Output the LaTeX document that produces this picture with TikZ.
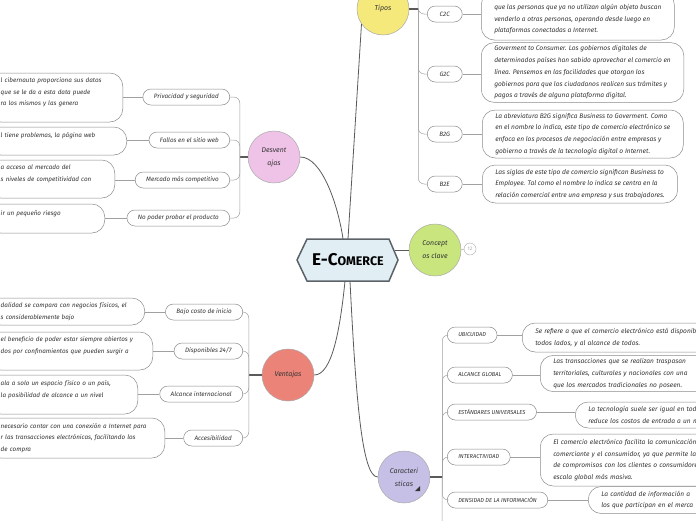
\documentclass[tikz,border=0pt]{standalone}
\usepackage{fontspec}
\setmainfont{Fira Sans}
\usetikzlibrary{calc}

\definecolor{hubfill}{HTML}{E1EEF4}
\definecolor{hubline}{HTML}{5B6369}
\definecolor{tiposfill}{HTML}{F6E97C}
\definecolor{conceptfill}{HTML}{C9E67E}
\definecolor{desvfill}{HTML}{EFC3E7}
\definecolor{ventfill}{HTML}{EC8378}
\definecolor{caracfill}{HTML}{C6C0E7}
\definecolor{ringgray}{HTML}{A8A8A8}
\definecolor{leafgray}{HTML}{8A8A8A}
\definecolor{linkgray}{HTML}{5A5A5A}
\definecolor{twiggray}{HTML}{A0A0A0}
\definecolor{txtgray}{HTML}{333333}

\begin{document}
\begin{tikzpicture}[x=1pt, y=-1pt,
    font=\fontsize{6.3}{11.8}\selectfont\itshape, text=txtgray,
    topic/.style={circle, draw=ringgray, line width=0.5pt, minimum size=52pt, inner sep=1pt,
        align=center, font=\fontsize{7}{13}\selectfont\itshape},
    leaf/.style={draw=leafgray, fill=white, rounded corners=8pt, minimum height=16pt,
        inner xsep=11pt, inner ysep=2pt, line width=0.5pt},
    capsleaf/.style={leaf, font=\fontsize{5.7}{11.8}\selectfont\itshape},
    note/.style={draw=leafgray, fill=white, rounded corners=13pt, align=left,
        inner xsep=13pt, inner ysep=3pt, line width=0.5pt, font=\fontsize{6.6}{11.8}\selectfont\itshape},
    leftnote/.style={note, anchor=east, font=\fontsize{6.3}{11.8}\selectfont\itshape},
    link/.style={draw=linkgray, line width=0.8pt},
    stem/.style={draw=linkgray, line width=1.6pt},
    twig/.style={draw=twiggray, line width=0.5pt, rounded corners=6pt}]

    \clip (0,0) rectangle (696,520);

    % central hexagon
    \filldraw[fill=hubfill, draw=hubline, line width=1.5pt]
        (297,260) -- (307,239) -- (389,239) -- (398,260) -- (389,281) -- (307,281) -- cycle;
    \node[inner sep=0, minimum width=101pt, minimum height=42pt, text=black] (hub) at (348,260)
        {\bfseries\upshape{\fontsize{17}{17}\selectfont E-C}{\fontsize{12.5}{12.5}\selectfont OMERCE}};

    % main topics
    \node[topic, fill=tiposfill] (tipos) at (383,9) {Tipos};
    \node[topic, fill=conceptfill] (concepts) at (435,250) {Concept\\os clave};
    \node[topic, fill=desvfill] (desv) at (274,157) {Desvent\\ajas};
    \node[topic, fill=ventfill] (vent) at (288,375) {Ventajas};
    \node[topic, fill=caracfill] (carac) at (404,477) {Caracteri\\sticas};
    \fill[txtgray] ($(carac)+(16,9)$) -- ($(carac)+(16,14)$) -- ($(carac)+(11,14)$) -- cycle;

    \node[circle, draw=ringgray, minimum size=12pt, inner sep=0, text=ringgray,
        font=\fontsize{5}{5}\selectfont\upshape] (count) at (470,249) {12};
    \draw[ringgray, line width=0.5pt] (concepts.east) -- (count.west);

    \draw[link] (tipos.215) -- (hub.north);
    \draw[link] (desv.east) .. controls (322,157) and (338,205) .. ($(hub.north)+(-5,0)$);
    \draw[link] ($(hub.east)+(-4,-10)$) -- (concepts.west);
    \draw[link] ($(hub.south)+(-3,0)$) .. controls (340,330) and (332,375) .. (vent.east);
    \draw[link] ($(hub.south)+(2,0)$) .. controls (356,400) and (362,477) .. (carac.west);

    \draw[stem] (tipos.east) -- ++(9,0) coordinate (tj);
    \draw[stem] (desv.west) -- ++(-8,0) coordinate (dj);
    \draw[stem] (vent.west) -- ++(-13,0) coordinate (vj);
    \draw[stem] (carac.east) -- ++(12,0) coordinate (cj);
    \coordinate (tipostop) at (418,-10);
    \coordinate (caracend) at (442,530);

    % Tipos
    \node[leaf, anchor=west, minimum width=35pt] (c2c) at (427,14) {C2C};
    \node[leaf, anchor=west, minimum width=35pt] (g2c) at (427,74) {G2C};
    \node[leaf, anchor=west, minimum width=35pt] (b2g) at (427,134) {B2G};
    \node[leaf, anchor=west, minimum width=35pt] (b2e) at (427,184) {B2E};

    \node[note, anchor=west, minimum height=48pt] (c2cnote) at (481,16)
        {\mbox{}\\que las personas que ya no utilizan algún objeto buscan\\
        venderlo a otras personas, operando desde luego en\\plataformas conectadas a Internet.};
    \node[note, anchor=west, minimum height=55pt] (g2cnote) at (481,72.5)
        {Goverment to Consumer. Los gobiernos digitales de\\
        determinados países han sabido aprovechar el comercio en\\
        línea. Pensemos en las facilidades que otorgan los\\
        gobiernos para que los ciudadanos realicen sus trámites y\\
        pagos a través de alguna plataforma digital.};
    \node[note, anchor=west, minimum height=48pt] (b2gnote) at (482,134)
        {La abreviatura B2G significa Business to Goverment. Como\\
        en el nombre lo indica, este tipo de comercio electrónico se\\
        enfoca en los procesos de negociación entre empresas y\\
        gobierno a través de la tecnología digital o Internet.};
    \node[note, anchor=west, minimum height=38pt] (b2enote) at (482,184)
        {Las siglas de este tipo de comercio significan Business to\\
        Employee. Tal como el nombre lo indica se centra en la\\
        relación comercial entre una empresa y sus trabajadores.};

    \draw[twig] (tj) -- (tipostop);
    \foreach \leaf in {c2c, g2c, b2g, b2e} {
        \draw[twig] (tj) |- (\leaf.west);
        \draw[twig] (\leaf.east) -- (\leaf.east -| \leaf note.west);
    }

    % Desventajas (notes run past the left edge)
    \node[leaf, anchor=east] (privacy) at (230,97) {Privacidad y seguridad};
    \node[leaf, anchor=east] (failures) at (230,140) {Fallos en el sitio web};
    \node[leaf, anchor=east] (market) at (230,180) {Mercado más competitivo};
    \node[leaf, anchor=east] (trial) at (230,218) {No poder probar el producto};

    \node[leftnote, text width=109pt, minimum height=49pt] (privacynote) at (123,97.5)
        {\mbox{l cibernauta proporciona sus datos}\\\mbox{que se le da a esta data puede}\\
        \mbox{ra los mismos y las genera}\\\mbox{}};
    \node[leftnote, text width=113pt, minimum height=28pt] (failuresnote) at (127,141)
        {\mbox{l tiene problemas, la página web}\\\mbox{}};
    \node[leftnote, text width=101pt, minimum height=38pt] (marketnote) at (115,179)
        {\mbox{a acceso al mercado del}\\\mbox{s niveles de competitividad con}\\\mbox{}};
    \node[leftnote, text width=91pt, minimum height=29pt] (trialnote) at (105,218.5)
        {\mbox{ir un pequeño riesgo}\\\mbox{}};

    \foreach \leaf in {privacy, failures, market, trial} {
        \draw[twig] (dj) |- (\leaf.east);
        \draw[twig] (\leaf.west) -- (\leaf.west -| \leaf note.east);
    }

    % Ventajas
    \node[leaf, anchor=east] (lowcost) at (243,312) {Bajo costo de inicio};
    \node[leaf, anchor=east] (allday) at (243,351) {Disponibles 24/7};
    \node[leaf, anchor=east] (reach) at (243,394) {Alcance internacional};
    \node[leaf, anchor=east] (access) at (243,438) {Accesibilidad};

    \node[leftnote, text width=131pt, minimum height=27pt] (lowcostnote) at (145,311.5)
        {\mbox{dalidad se compara con negocios físicos, el}\\\mbox{s considerablemente bajo}};
    \node[leftnote, text width=139pt, minimum height=38pt] (alldaynote) at (153,351)
        {\mbox{el beneficio de poder estar siempre abiertos y}\\
        \mbox{dos por confinamientos que pueden surgir a}\\\mbox{}};
    \node[leftnote, text width=124pt, minimum height=39pt] (reachnote) at (138,394.5)
        {\mbox{ala a solo un espacio físico o un país,}\\\mbox{la posibilidad de alcance a un nivel}\\\mbox{}};
    \node[leftnote, text width=151pt, minimum height=40pt] (accessnote) at (165,438)
        {\mbox{necesario contar con una conexión a Internet para}\\
        \mbox{r las transacciones electrónicas, facilitando los}\\\mbox{de compra}};

    \foreach \leaf in {lowcost, allday, reach, access} {
        \draw[twig] (vj) |- (\leaf.east);
        \draw[twig] (\leaf.west) -- (\leaf.west -| \leaf note.east);
    }

    % Caracteristicas (notes run past the right edge)
    \node[capsleaf, anchor=west] (ubiq) at (447,335) {UBICUIDAD};
    \node[capsleaf, anchor=west] (global) at (447,375) {ALCANCE GLOBAL};
    \node[capsleaf, anchor=west] (standard) at (447,412) {ESTÁNDARES UNIVERSALES};
    \node[capsleaf, anchor=west] (interact) at (447,457) {INTERACTIVIDAD};
    \node[capsleaf, anchor=west] (density) at (447,500) {DENSIDAD DE LA INFORMACIÓN};

    \node[note, anchor=west, text width=200pt, minimum height=29pt] (ubiqnote) at (522,337.5)
        {Se refiere a que el comercio electrónico está disponible\\todos lados, y al alcance de todos.};
    \node[note, anchor=west, text width=200pt, minimum height=33pt] (globalnote) at (540,373.5)
        {Las transacciones que se realizan traspasan\\territoriales, culturales y nacionales con una\\que los mercados tradicionales no poseen.};
    \node[note, anchor=west, text width=200pt, minimum height=26pt] (standardnote) at (575,415)
        {La tecnología suele ser igual en toda\\reduce los costos de entrada a un m};
    \node[note, anchor=west, text width=200pt, minimum height=52pt] (interactnote) at (540,460)
        {El comercio electrónico facilita la comunicación e\\comerciante y el consumidor, ya que permite la\\de compromisos con los clientes o consumidores\\escala global más masiva.};
    \node[note, anchor=west, text width=200pt, minimum height=27pt] (densitynote) at (588,500)
        {La cantidad de información a\\los que participan en el merca};

    \draw[twig] (cj) -- (caracend);
    \foreach \leaf in {ubiq, global, standard, interact, density} {
        \draw[twig] (cj) |- (\leaf.west);
        \draw[twig] (\leaf.east) -- (\leaf.east -| \leaf note.west);
    }
\end{tikzpicture}
\end{document}
